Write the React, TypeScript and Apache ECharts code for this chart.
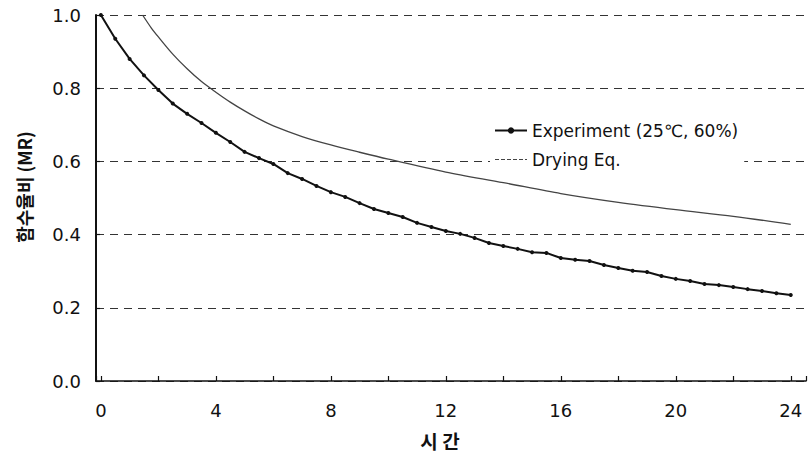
import React, { useEffect, useRef } from "react";
import * as echarts from "echarts";

// Experiment (25℃, 60%) — measured every 0.5 h
const expTimes: number[] = [
  0, 0.5, 1, 1.5, 2, 2.5, 3, 3.5, 4, 4.5, 5, 5.5, 6, 6.5, 7, 7.5, 8, 8.5, 9, 9.5,
  10, 10.5, 11, 11.5, 12, 12.5, 13, 13.5, 14, 14.5, 15, 15.5, 16, 16.5, 17, 17.5,
  18, 18.5, 19, 19.5, 20, 20.5, 21, 21.5, 22, 22.5, 23, 23.5, 24,
];
const expMR: number[] = [
  1.0, 0.935, 0.88, 0.835, 0.795, 0.758, 0.73, 0.705, 0.678, 0.653, 0.626, 0.609,
  0.593, 0.568, 0.552, 0.533, 0.516, 0.503, 0.486, 0.47, 0.459, 0.448, 0.432,
  0.421, 0.41, 0.402, 0.391, 0.377, 0.369, 0.361, 0.352, 0.35, 0.336, 0.331,
  0.328, 0.317, 0.309, 0.301, 0.298, 0.287, 0.279, 0.273, 0.265, 0.262, 0.257,
  0.251, 0.246, 0.24, 0.235,
];

// Drying equation curve
const eqTimes: number[] = [
  1.45, 1.75, 2, 2.5, 3, 3.5, 4, 4.5, 5, 5.5, 6, 7, 8, 9, 10, 12, 14, 16, 18, 20, 22, 24,
];
const eqMR: number[] = [
  1.0, 0.965, 0.94, 0.893, 0.853, 0.818, 0.789, 0.762, 0.738, 0.716, 0.697, 0.668,
  0.645, 0.625, 0.606, 0.571, 0.542, 0.512, 0.488, 0.468, 0.45, 0.428,
];

const seriesNames = ["Experiment (25\u2103, 60%)", "Drying Eq."];
const xTitle = "시 간";
const yTitle = "함수율비 (MR)";

export default function App() {
  const ref = useRef<HTMLDivElement>(null);
  useEffect(() => {
    if (!ref.current) return;
    const chart = echarts.init(ref.current, undefined, { renderer: "svg" });
    const font = "'DejaVu Sans', 'Liberation Sans', Arial, sans-serif";
    const kfont = "'Noto Sans CJK KR', 'DejaVu Sans', sans-serif";
    chart.setOption({
      animation: false,
      backgroundColor: "#ffffff",
      textStyle: { fontFamily: font },
      grid: { left: 96, right: 3, top: 15, bottom: 76, containLabel: false },
      legend: {
        orient: "vertical",
        left: 490,
        top: 118,
        itemGap: 12,
        itemWidth: 32,
        itemHeight: 8,
        padding: [4, 6, 4, 4],
        backgroundColor: "#ffffff",
        textStyle: { fontFamily: font, fontSize: 17, color: "#111" },
        data: [
          { name: seriesNames[0] },
          {
            name: seriesNames[1],
            itemStyle: { opacity: 0 },
            lineStyle: { type: [4, 2], width: 1.2, color: "#444" },
          },
        ],
      },
      xAxis: {
        type: "value",
        min: -0.17,
        max: 24.53,
        splitNumber: 12,
        name: xTitle,
        nameLocation: "middle",
        nameGap: 50,
        nameTextStyle: {
          fontFamily: kfont,
          fontSize: 19,
          fontWeight: "bold",
          color: "#111",
          padding: [0, 22, 0, 0],
        },
        axisLine: { show: true, onZero: false, lineStyle: { color: "#111", width: 1.6 } },
        axisTick: { show: true, inside: true, length: 5, lineStyle: { color: "#111", width: 1.2 } },
        axisLabel: {
          fontSize: 18,
          color: "#111",
          margin: 20,
          showMinLabel: true,
          showMaxLabel: true,
          formatter: (v: number) => {
            const r = Math.round(v * 100) / 100;
            return r >= 0 && r <= 24 && r % 4 === 0 ? String(r) : "";
          },
        },
        splitLine: { show: false },
      },
      yAxis: {
        type: "value",
        min: 0,
        max: 1,
        interval: 0.2,
        name: yTitle,
        nameLocation: "middle",
        nameGap: 63,
        nameRotate: 90,
        nameTextStyle: {
          fontFamily: kfont,
          fontSize: 18,
          fontWeight: "bold",
          color: "#111",
          padding: [0, 0, 0, 22],
        },
        axisLine: { show: true, onZero: false, lineStyle: { color: "#111", width: 2 } },
        axisTick: { show: true, inside: true, length: 4, lineStyle: { color: "#111", width: 1.2 } },
        axisLabel: {
          fontSize: 18,
          color: "#111",
          margin: 15,
          formatter: (v: number) => v.toFixed(1),
        },
        splitLine: {
          show: true,
          lineStyle: { color: "#333", width: 1.2, type: [8, 6] },
        },
      },
      series: [
        {
          name: seriesNames[0],
          type: "line",
          data: expTimes.map((t, i) => [t, expMR[i]]),
          symbol: "circle",
          symbolSize: 4,
          showSymbol: true,
          itemStyle: { color: "#111" },
          lineStyle: { color: "#111", width: 2 },
          z: 3,
        },
        {
          name: seriesNames[1],
          type: "line",
          data: eqTimes.map((t, i) => [t, eqMR[i]]),
          smooth: 0.3,
          symbol: "none",
          itemStyle: { color: "#444" },
          lineStyle: { color: "#444", width: 1.3 },
          z: 2,
        },
      ],
    });
    return () => chart.dispose();
  }, []);
  return <div ref={ref} style={{ width: 809, height: 457, position: "absolute", left: 0, top: 0 }} />;
}
